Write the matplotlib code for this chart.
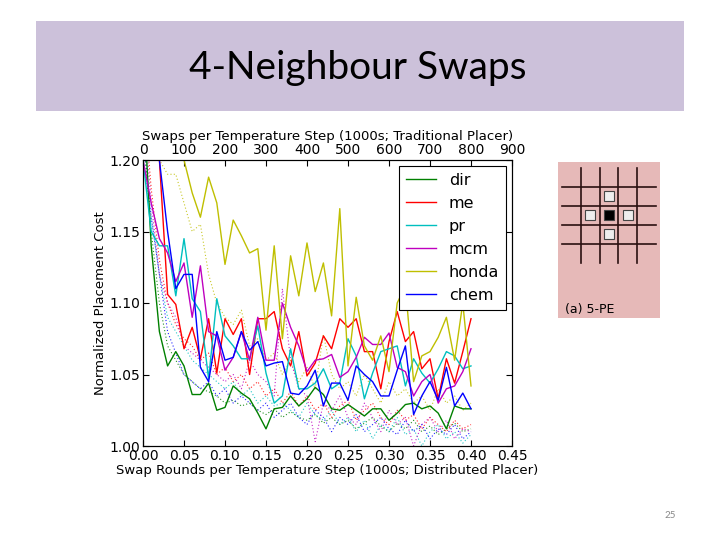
import numpy as np
import matplotlib
matplotlib.use('Agg')
import matplotlib.pyplot as plt
from matplotlib.patches import Rectangle

# distributed placer: swap rounds per temperature step (1000s)
rounds = [i / 100 for i in range(41)]
# traditional placer: swaps per temperature step (1000s)
swaps = list(range(0, 801, 20))

dir_d = [1.25, 1.140, 1.080, 1.056, 1.066, 1.056, 1.036, 1.036, 1.044, 1.025, 1.027,
         1.042, 1.037, 1.033, 1.023, 1.012, 1.026, 1.027, 1.035, 1.028, 1.033, 1.041,
         1.036, 1.026, 1.025, 1.029, 1.025, 1.021, 1.026, 1.026, 1.018, 1.023, 1.029,
         1.030, 1.026, 1.028, 1.023, 1.012, 1.028, 1.026, 1.026]
me_d = [1.30, 1.25, 1.20, 1.106, 1.099, 1.068, 1.083, 1.061, 1.089, 1.051, 1.089,
        1.078, 1.089, 1.050, 1.089, 1.089, 1.094, 1.068, 1.056, 1.080, 1.049, 1.058,
        1.077, 1.068, 1.089, 1.083, 1.089, 1.066, 1.066, 1.040, 1.073, 1.094, 1.073,
        1.080, 1.054, 1.061, 1.033, 1.061, 1.044, 1.066, 1.089]
pr_d = [1.20, 1.15, 1.14, 1.14, 1.105, 1.145, 1.103, 1.094, 1.047, 1.103, 1.077,
        1.070, 1.061, 1.061, 1.084, 1.051, 1.030, 1.035, 1.068, 1.040, 1.040, 1.044,
        1.054, 1.040, 1.044, 1.075, 1.063, 1.033, 1.051, 1.066, 1.068, 1.070, 1.042,
        1.061, 1.051, 1.044, 1.054, 1.066, 1.063, 1.054, 1.056]
mcm_d = [1.20, 1.17, 1.145, 1.135, 1.115, 1.128, 1.090, 1.126, 1.080, 1.077, 1.053,
         1.062, 1.080, 1.060, 1.090, 1.060, 1.060, 1.100, 1.083, 1.070, 1.052, 1.060,
         1.061, 1.064, 1.048, 1.052, 1.062, 1.076, 1.071, 1.071, 1.079, 1.055, 1.052,
         1.035, 1.045, 1.050, 1.030, 1.040, 1.042, 1.052, 1.068]
honda_d = [1.30, 1.28, 1.26, 1.24, 1.22, 1.20, 1.177, 1.160, 1.188, 1.170, 1.127,
           1.158, 1.147, 1.135, 1.138, 1.081, 1.140, 1.075, 1.133, 1.105, 1.142, 1.108,
           1.128, 1.091, 1.166, 1.056, 1.104, 1.070, 1.060, 1.077, 1.052, 1.100, 1.112,
           1.045, 1.063, 1.066, 1.076, 1.090, 1.060, 1.100, 1.042]
chem_d = [1.30, 1.25, 1.20, 1.150, 1.110, 1.120, 1.120, 1.055, 1.045, 1.080, 1.060,
          1.062, 1.080, 1.067, 1.073, 1.056, 1.058, 1.059, 1.037, 1.036, 1.042, 1.053,
          1.028, 1.044, 1.044, 1.032, 1.056, 1.050, 1.045, 1.035, 1.035, 1.053, 1.070,
          1.022, 1.035, 1.045, 1.032, 1.055, 1.028, 1.037, 1.026]

dir_t = [1.22, 1.15, 1.10, 1.07, 1.06, 1.05, 1.045, 1.04, 1.038, 1.035, 1.03, 1.032,
         1.028, 1.03, 1.025, 1.022, 1.026, 1.02, 1.024, 1.02, 1.018, 1.022, 1.016, 1.02,
         1.015, 1.018, 1.012, 1.016, 1.02, 1.014, 1.01, 1.016, 1.012, 1.018, 1.01, 1.014,
         1.008, 1.012, 1.016, 1.01, 1.012]
me_t = [1.25, 1.18, 1.13, 1.10, 1.085, 1.075, 1.07, 1.06, 1.065, 1.05, 1.055, 1.045,
        1.05, 1.04, 1.045, 1.035, 1.04, 1.03, 1.038, 1.028, 1.035, 1.025, 1.03, 1.02,
        1.028, 1.032, 1.018, 1.025, 1.03, 1.02, 1.015, 1.025, 1.018, 1.022, 1.012, 1.02,
        1.015, 1.01, 1.018, 1.012, 1.015]
pr_t = [1.20, 1.16, 1.12, 1.09, 1.08, 1.07, 1.06, 1.055, 1.05, 1.045, 1.04, 1.045,
        1.035, 1.04, 1.03, 1.035, 1.028, 1.03, 1.025, 1.02, 1.03, 1.022, 1.018, 1.025,
        1.015, 1.02, 1.01, 1.018, 1.005, 1.015, 1.01, 1.02, 1.008, 1.012, 1.0, 1.01,
        1.015, 1.005, 1.01, 1.002, 1.008]
mcm_t = [1.24, 1.17, 1.12, 1.10, 1.09, 1.07, 1.065, 1.06, 1.055, 1.05, 1.045, 1.05,
         1.04, 1.06, 1.05, 1.045, 1.035, 1.11, 1.06, 1.04, 1.035, 1.003, 1.03, 1.025,
         1.035, 1.02, 1.015, 1.03, 1.02, 1.01, 1.025, 1.015, 1.02, 1.0, 1.015, 1.02,
         1.01, 1.018, 1.005, 1.012, 1.01]
honda_t = [1.26, 1.23, 1.20, 1.19, 1.19, 1.17, 1.15, 1.155, 1.12, 1.10, 1.09, 1.085,
           1.095, 1.07, 1.075, 1.06, 1.065, 1.05, 1.06, 1.045, 1.055, 1.04, 1.078, 1.05,
           1.04, 1.045, 1.035, 1.05, 1.04, 1.03, 1.045, 1.035, 1.04, 1.03, 1.035, 1.025,
           1.04, 1.03, 1.035, 1.025, 1.03]
chem_t = [1.22, 1.16, 1.12, 1.08, 1.065, 1.05, 1.045, 1.04, 1.045, 1.035, 1.04, 1.03,
          1.035, 1.03, 1.025, 1.03, 1.02, 1.025, 1.03, 1.02, 1.015, 1.025, 1.02, 1.01,
          1.02, 1.015, 1.022, 1.01, 1.015, 1.02, 1.012, 1.008, 1.018, 1.01, 1.015, 1.005,
          1.012, 1.008, 1.015, 1.005, 1.01]

names = ['dir', 'me', 'pr', 'mcm', 'honda', 'chem']
colors = ['#008000', '#ff0000', '#00bfbf', '#bf00bf', '#bfbf00', '#0000ff']
solid = [dir_d, me_d, pr_d, mcm_d, honda_d, chem_d]
dotted = [dir_t, me_t, pr_t, mcm_t, honda_t, chem_t]

fig = plt.figure(figsize=(7.2, 5.4), dpi=100)
fig.patch.set_facecolor('white')

# slide header
fig.patches.append(Rectangle((36 / 720, 1 - 111 / 540), 648 / 720, 90 / 540,
                             transform=fig.transFigure, facecolor='#ccc1da',
                             edgecolor='none', zorder=0))
fig.text(358 / 720, 1 - 68 / 540, '4-Neighbour Swaps', ha='center', va='center',
         fontsize=28, family='Lato')
fig.text(670 / 720, 1 - 515 / 540, '25', ha='center', va='center',
         fontsize=7, color='#888888', family='Lato')

ax = fig.add_axes([143 / 720, 1 - 446 / 540, 369 / 720, 286 / 540])
axt = ax.twiny()

for name, c, ys in zip(names, colors, solid):
    ax.plot(rounds, ys, color=c, lw=1.0, label=name)
for c, ys in zip(colors, dotted):
    axt.plot(swaps, ys, color=c, lw=0.8, linestyle=(0, (1, 2)), alpha=0.85)

ax.set_xlim(0, 0.45)
ax.set_ylim(1.0, 1.2)
axt.set_xlim(0, 900)
ax.set_xticks(np.arange(0, 0.451, 0.05))
ax.set_xticklabels(['%.2f' % v for v in np.arange(0, 0.451, 0.05)])
ax.set_yticks([1.00, 1.05, 1.10, 1.15, 1.20])
ax.set_yticklabels(['1.00', '1.05', '1.10', '1.15', '1.20'])
axt.set_xticks(range(0, 901, 100))

ax.tick_params(direction='in', right=True, labelsize=10, length=4, pad=2)
axt.tick_params(direction='in', labelsize=10, length=4, pad=2)
ax.set_xlabel('Swap Rounds per Temperature Step (1000s; Distributed Placer)',
              fontsize=9.5, labelpad=1)
ax.set_ylabel('Normalized Placement Cost', fontsize=9.5, labelpad=2)
axt.set_xlabel('Swaps per Temperature Step (1000s; Traditional Placer)',
               fontsize=9.5, labelpad=2)

leg = ax.legend(loc='upper right', fontsize=11.5, fancybox=False, framealpha=1,
                edgecolor='black', handlelength=1.9, handletextpad=0.8,
                labelspacing=0.5, borderaxespad=0.35, borderpad=0.45)
leg.get_frame().set_linewidth(0.8)
leg.set_zorder(5)
ax.set_zorder(axt.get_zorder() + 1)
ax.patch.set_visible(False)

# inset: 5-PE neighbourhood
ins = fig.add_axes([558 / 720, 1 - 318 / 540, 102 / 720, 156 / 540])
ins.set_facecolor('#e6b9b8')
ins.set_xlim(-0.2, 5.2)
ins.set_ylim(-2.9, 5.3)
ins.set_xticks([])
ins.set_yticks([])
for s in ins.spines.values():
    s.set_visible(False)
for k in range(4):
    ins.plot([1 + k, 1 + k], [0, 5], color='#2a1010', lw=1.2)
    ins.plot([0, 5], [1 + k, 1 + k], color='#2a1010', lw=1.2)
cells = [(2.5, 3.5, '#eeeeee'), (1.5, 2.5, '#eeeeee'), (3.5, 2.5, '#eeeeee'),
         (2.5, 1.5, '#eeeeee'), (2.5, 2.5, 'black')]
for cx, cy, fc in cells:
    ins.add_patch(Rectangle((cx - 0.27, cy - 0.27), 0.54, 0.54, facecolor=fc,
                            edgecolor='#444444', lw=0.8, zorder=3))
ins.text(0.15, -2.45, '(a) 5-PE', fontsize=9, va='center', family='DejaVu Sans')

fig.savefig('out.png', dpi=100)
